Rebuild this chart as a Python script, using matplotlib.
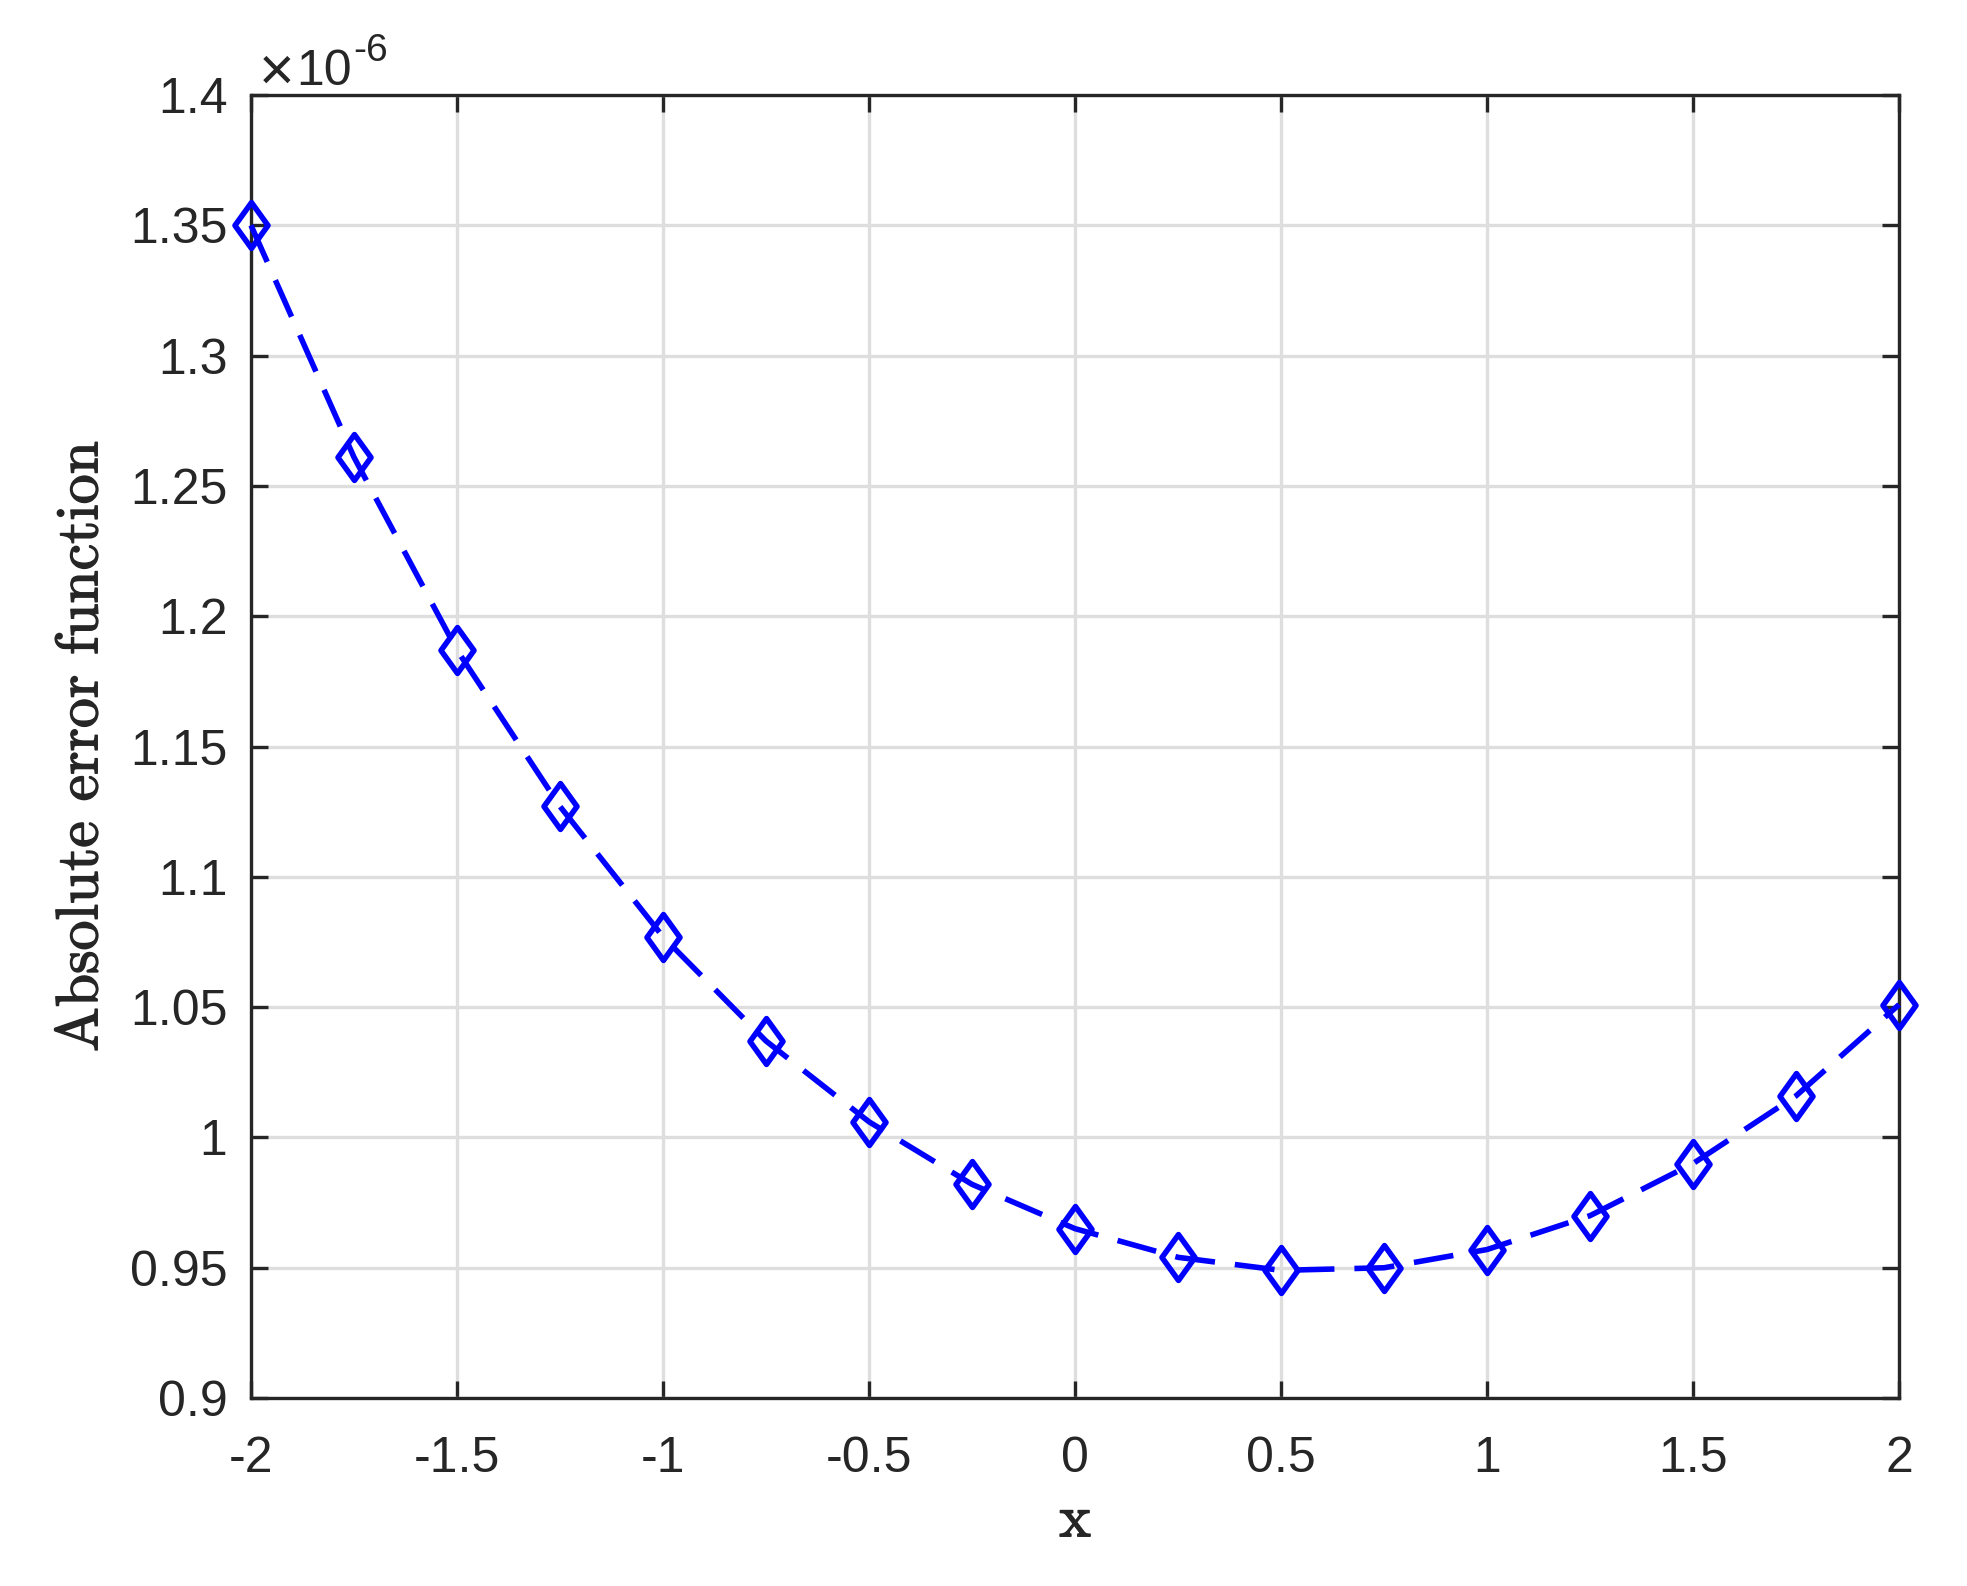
import matplotlib
matplotlib.use("Agg")
import matplotlib.pyplot as plt
import matplotlib.patheffects as pe
from matplotlib.path import Path
from matplotlib.ticker import FuncFormatter, MultipleLocator

# Data (y values in units of 1e-6)
x_vals = [-2.0, -1.75, -1.5, -1.25, -1.0, -0.75, -0.5, -0.25, 0.0,
          0.25, 0.5, 0.75, 1.0, 1.25, 1.5, 1.75, 2.0]
abs_err = [1.350, 1.261, 1.187, 1.127, 1.077, 1.037, 1.006, 0.982, 0.965,
           0.954, 0.949, 0.950, 0.957, 0.970, 0.990, 1.016, 1.051]

x_label = "x"
y_label = "Absolute error function"

plt.rcParams["font.family"] = ["Liberation Sans", "DejaVu Sans"]
plt.rcParams["axes.unicode_minus"] = False

dark = "#262626"

fig = plt.figure(figsize=(9.835, 7.93), dpi=200)
ax = fig.add_axes([0.1276, 0.1185, 0.8379, 0.8216])

# MATLAB-like diamond (slightly taller than wide)
diamond = Path([(0, 1), (0.72, 0), (0, -1), (-0.72, 0), (0, 1)],
               [Path.MOVETO, Path.LINETO, Path.LINETO, Path.LINETO, Path.CLOSEPOLY])

ax.plot(x_vals, abs_err, color="blue", lw=2.0, dashes=(7.2, 3.6),
        marker=diamond, markersize=16.5, markerfacecolor="none",
        markeredgecolor="blue", markeredgewidth=2.0, zorder=5, clip_on=False)

ax.set_xlim(-2, 2)
ax.set_ylim(0.9, 1.4)
ax.xaxis.set_major_locator(MultipleLocator(0.5))
ax.yaxis.set_major_locator(MultipleLocator(0.05))
fmt = FuncFormatter(lambda v, _: f"{v:g}")
ax.xaxis.set_major_formatter(fmt)
ax.yaxis.set_major_formatter(fmt)

ax.grid(True, color="#dedede", lw=1.2)
ax.set_axisbelow(True)
ax.tick_params(direction="in", length=6, width=1.2, color=dark,
               labelcolor=dark, labelsize=18, top=True, right=True)
ax.tick_params(axis="x", pad=13.5)
ax.tick_params(axis="y", pad=8.5)
for sp in ax.spines.values():
    sp.set_color(dark)
    sp.set_linewidth(1.2)
    sp.set_zorder(4)

# LaTeX-like serif labels, slightly heavier like the exported original
heavy = [pe.withStroke(linewidth=0.5, foreground=dark)]
ax.set_xlabel(x_label, family="cmr10", fontsize=21.5, color=dark, path_effects=heavy)
ax.set_ylabel(y_label, family="cmr10", fontsize=21.5, color=dark, path_effects=heavy)
ax.xaxis.set_label_coords(0.5, -0.074)
ax.yaxis.set_label_coords(-0.086, 0.5)

# exponent label as in MATLAB
ax.text(0.0045, 1.004, "\u00d7", transform=ax.transAxes, fontsize=22,
        color=dark, ha="left", va="baseline")
ax.text(0.0275, 1.0077, "10", transform=ax.transAxes, fontsize=18,
        color=dark, ha="left", va="baseline")
ax.text(0.062, 1.026, "-6", transform=ax.transAxes, fontsize=14,
        color=dark, ha="left", va="baseline")

fig.savefig("out.png", dpi=200)
